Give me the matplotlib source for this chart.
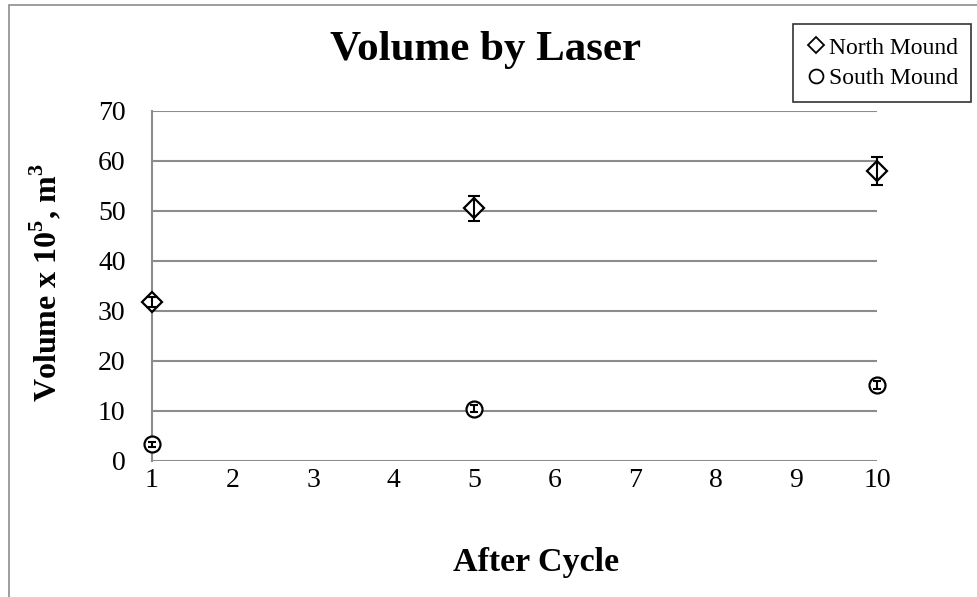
import numpy as np
import matplotlib
matplotlib.use("Agg")
import matplotlib.pyplot as plt
from matplotlib.lines import Line2D
from matplotlib.patches import Rectangle

plt.rcParams['font.family'] = ['Liberation Serif', 'DejaVu Serif']
plt.rcParams['mathtext.fontset'] = 'custom'
plt.rcParams['mathtext.rm'] = 'Liberation Serif'
plt.rcParams['mathtext.bf'] = 'Liberation Serif:bold'

# data
cycles = [1, 5, 10]
north = [31.8, 50.6, 58.0]
north_err = [1.0, 2.5, 2.8]
south = [3.4, 10.5, 15.2]
south_err = [0.5, 0.7, 0.8]

W, H = 977, 597
fig = plt.figure(figsize=(W / 100, H / 100), dpi=100)

# axes box in pixels
x0, x1 = 152, 877
y0, y1 = 111, 461
ax = fig.add_axes([x0 / W, 1 - y1 / H, (x1 - x0) / W, (y1 - y0) / H])

# outer chart border (cropped at right/bottom)
fig.patches.append(Rectangle((9 / W, -0.1), 1.2, 1 - 5 / H + 0.1,
                             transform=fig.transFigure, fill=False,
                             edgecolor='#8c8c8c', lw=1.2, zorder=0))

# markers first, error bars drawn on top of them
ax.plot(cycles, north, ls='none', marker='D', ms=10.5, mfc='white',
        mec='black', mew=1.6, clip_on=False, zorder=4)
ax.plot(cycles, south, ls='none', marker='o', ms=11.5, mfc='white',
        mec='black', mew=1.6, clip_on=False, zorder=4)
ax.errorbar(cycles, north, yerr=north_err, fmt='none', ecolor='black',
            elinewidth=1.5, capsize=4, capthick=1.5, clip_on=False, zorder=5)
ax.errorbar(cycles, south, yerr=south_err, fmt='none', ecolor='black',
            elinewidth=1.5, capsize=3, capthick=1.5, clip_on=False, zorder=5)

ax.set_xlim(1, 10)
ax.set_ylim(0, 70)
ax.set_xticks(range(1, 11))
ax.set_yticks(range(0, 71, 10))
ax.yaxis.grid(True, color='#8c8c8c', lw=1.5)
ax.set_axisbelow(True)
for s in ['top', 'right', 'bottom']:
    ax.spines[s].set_visible(False)
ax.spines['left'].set_color('#8c8c8c')
ax.spines['left'].set_linewidth(1.5)
ax.tick_params(axis='both', length=0, labelsize=20)
ax.tick_params(axis='x', pad=5)
ax.tick_params(axis='y', pad=19)

fig.text(485 / W, 1 - 50 / H, 'Volume by Laser', ha='center', va='center',
         fontsize=31, fontweight='bold')
fig.text(536 / W, 1 - 562 / H, 'After Cycle', ha='center', va='center',
         fontsize=24.5, fontweight='bold')
fig.text(46 / W, 1 - 283 / H, r'Volume x 10$^\mathbf{5}$, m$^\mathbf{3}$',
         ha='center', va='center', rotation=90, fontsize=23, fontweight='bold')

handles = [Line2D([], [], ls='none', marker='D', ms=8, mfc='white', mec='black', mew=1.3),
           Line2D([], [], ls='none', marker='o', ms=10, mfc='white', mec='black', mew=1.3)]
leg = fig.legend(handles, ['North Mound', 'South Mound'], loc='upper right',
                 bbox_to_anchor=(971 / W, 1 - 24 / H), fontsize=17,
                 frameon=True, fancybox=False, handlelength=0.8,
                 handletextpad=0.15, borderpad=0.55, labelspacing=0.4,
                 borderaxespad=0)
leg.get_frame().set_edgecolor('black')
leg.get_frame().set_linewidth(1.2)

fig.savefig('out.png', dpi=100)
